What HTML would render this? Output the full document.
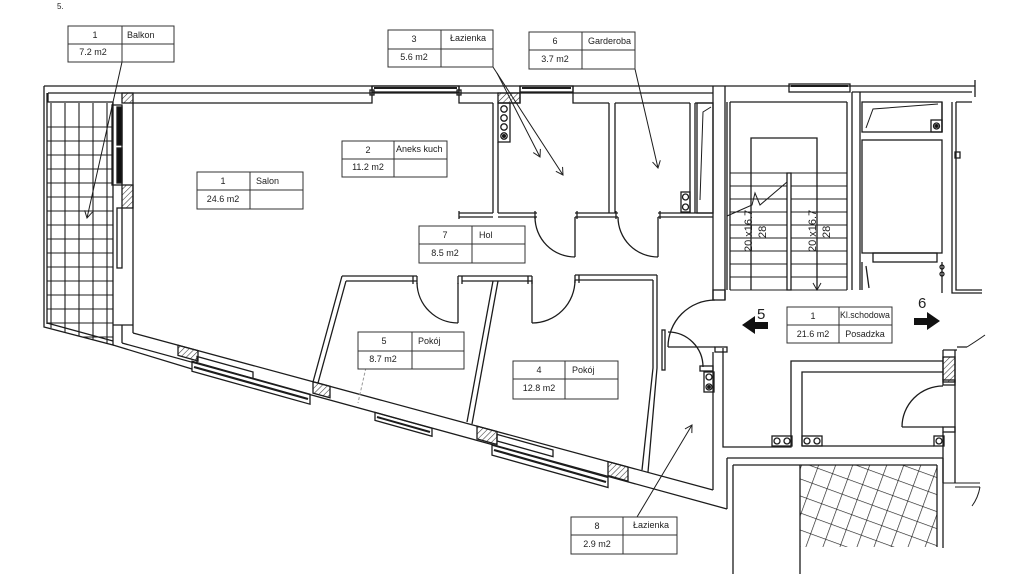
<!DOCTYPE html>
<html><head><meta charset="utf-8"><style>
html,body{margin:0;padding:0;background:#fff;}
svg{display:block;}
text{font-family:"Liberation Sans",Arial,sans-serif;fill:#222;}
</style></head><body>
<svg width="1024" height="574" viewBox="0 0 1024 574" xmlns="http://www.w3.org/2000/svg">
<defs>
<pattern id="h" width="4" height="4" patternUnits="userSpaceOnUse" patternTransform="rotate(45)"><line x1="0" y1="0" x2="0" y2="4" stroke="#333" stroke-width="1.1"/></pattern>
<pattern id="g" width="16" height="16" patternUnits="userSpaceOnUse" patternTransform="rotate(20)"><path d="M0 0H16M0 0V16" stroke="#1c1c1c" stroke-width="1.3" fill="none"/></pattern>
<marker id="a" markerUnits="userSpaceOnUse" markerWidth="10" markerHeight="10" refX="8" refY="5" orient="auto"><path d="M1 1 L8 5 L1 9" fill="none" stroke="#222" stroke-width="1"/></marker>
<clipPath id="bc"><polygon points="47,103 113,103 113,345 47,327"/></clipPath>
</defs>

<text x="57" y="9" font-size="8">5.</text>

<!-- balcony grid -->
<g clip-path="url(#bc)" stroke="#1c1c1c" stroke-width="1.1">
<path d="M51 103V350M65 103V350M79 103V350M93 103V350M107 103V350"/>
<path d="M44 127H113M44 141H113M44 155H113M44 169H113M44 183H113M44 197H113M44 211H113M44 225H113M44 239H113M44 253H113M44 267H113M44 281H113M44 295H113M44 309H113M44 323H113M44 337H113"/>
</g>

<!-- bottom right hatched balcony -->
<rect x="800" y="465" width="137" height="82" fill="url(#g)"/>

<g fill="none" stroke="#1c1c1c" stroke-width="1.3">
<!-- top wall -->
<path d="M44 86H975M975 80V97M48 93H713M48 93V102H113"/>
<path d="M133 103H372V86M459 86V103H493"/>
<path d="M498 103H520V86M573 86V103H609M615 103H690M695 103H713"/>
<path d="M852 92H972M956 102H972"/>
<!-- windows top -->
<rect x="372" y="86" width="87" height="6"/><path d="M374 88H457" stroke-width="2"/>
<rect x="520" y="86" width="53" height="6"/><path d="M522 88H571" stroke-width="2"/>
<rect x="789" y="84" width="61" height="8"/><path d="M791 86H848" stroke-width="2"/>
<rect x="370" y="90" width="4" height="5"/><rect x="457" y="90" width="4" height="5"/>

<!-- balcony -->
<path d="M44 86V327L113 345V102"/>
<path d="M47 93V324"/>
<path d="M47 323L113 341"/>
<!-- salon left wall -->
<path d="M133 103V333"/>
<rect x="112" y="105" width="10" height="80"/>
<rect x="117" y="107" width="5" height="38" fill="#111"/>
<rect x="117" y="148" width="5" height="35" fill="#111"/>
<rect x="122" y="93" width="11" height="10" fill="url(#h)"/>
<rect x="122" y="185" width="11" height="23" fill="url(#h)"/>
<rect x="117" y="208" width="5" height="60"/>
<path d="M113 325H133M122 325V343"/>
<path d="M113 345L192 369"/>

<!-- diagonal outer wall -->
<path d="M122 343L727 509"/>
<path d="M133 333L713 490"/>
<path d="M727 509V458M723 348V447H791V361H943M713 352V490"/>
<!-- hatches on diagonal -->
<polygon points="178,345.2 198,350.6 198,361 178,355.4" fill="url(#h)"/>
<polygon points="313,381.7 330,386.3 330,397.8 313,393.1" fill="url(#h)"/>
<polygon points="477,426.1 497,431.5 497,444.5 477,438.9" fill="url(#h)"/>
<polygon points="608,461.6 628,467 628,481.1 608,475.5" fill="url(#h)"/>
<!-- windows on diagonal -->
<polygon points="192,361.3 310,394.2 310,404.2 192,371.3"/>
<path d="M194 367L308 399" stroke-width="2.2"/>
<polygon points="197,363 253,378.5 253,372 197,356.5"/>
<polygon points="375,412.4 432,428.3 432,436.3 375,420.4"/>
<path d="M377 417L430 432" stroke-width="2"/>
<polygon points="492,445.1 608,477.5 608,487.5 492,455.1"/>
<path d="M494 450L606 482" stroke-width="2.2"/>
<polygon points="497,441 553,456.6 553,450 497,434.4"/>

<!-- kitchen / bath walls -->
<path d="M493 103V213M498 142V213M609 103V213M615 103V213M690 103V213M695 103V213"/>
<rect x="498" y="93" width="22" height="10" fill="url(#h)"/>
<rect x="498" y="103" width="12" height="39"/>
<circle cx="504" cy="109" r="3.2"/><circle cx="504" cy="118" r="3.2"/><circle cx="504" cy="127" r="3.2"/><circle cx="504" cy="136" r="3.2"/>
<circle cx="504" cy="136" r="1.4" fill="#111"/>
<!-- shaft -->
<rect x="697" y="103" width="16" height="110"/>
<path d="M700 200L703 112L711 107" stroke-width="1"/>
<!-- garderoba vents -->
<rect x="681" y="192" width="9" height="20"/><circle cx="685.5" cy="197" r="3"/><circle cx="685.5" cy="207" r="3"/>
<!-- hol top wall -->
<path d="M459 213H493M459 217H493M459 211V219"/>
<path d="M498 213H537M498 217H537M535 211V219"/>
<path d="M575 213H618M575 217H618M577 211V219M616 211V219"/>
<path d="M658 213H713M658 217H713M660 211V219"/>
<!-- doors bath/garderoba -->
<path d="M575 217V257M535 217A40 40 0 0 0 575 257"/>
<path d="M658 217V257M618 217A40 40 0 0 0 658 257"/>

<!-- stair hall -->
<path d="M713 86V300M725 86V300"/>
<rect x="713" y="290" width="12" height="10"/>
<path d="M727 102V290M730 102V290M730 102H847M847 102V290M852 92V290M860 92V290"/>
<path d="M751 290V138H817V290"/>
<path d="M730 173H847M730 186H847M730 199H847M730 212H847M730 225H847M730 238H847M730 251H847M730 264H847M730 277H847M730 290H847" stroke-width="1"/>
<rect x="787" y="173" width="4" height="117" fill="#fff"/>
<path d="M727 216L752 205L755 193L760 205L787 182" stroke-width="1"/>
<path d="M817 275L817 290" marker-end="url(#a)" stroke-width="1"/>

<!-- elevator room -->
<rect x="862" y="102" width="80" height="30"/>
<path d="M866 128L873 109L938 104" stroke-width="1"/>
<rect x="931" y="120" width="11" height="12"/><circle cx="936.5" cy="126" r="3"/><circle cx="936.5" cy="126" r="1.4" fill="#111"/>
<rect x="862" y="140" width="80" height="113"/>
<rect x="873" y="253" width="64" height="9"/>
<path d="M862 262V290M866 266L869 288M942 262V293"/>
<path d="M952 102V293H982M956 102V290H982M942 102V132"/>
<rect x="955" y="152" width="5" height="6"/>
<circle cx="942" cy="267" r="2"/><circle cx="942" cy="274" r="2"/>

<!-- rooms 5 and 4 -->
<path d="M342 276L313 382M346 281L318 383"/>
<path d="M342 276H417M346 281H417M413 276V284M417 276V284"/>
<path d="M458 276H532M462 281H532M458 276V284M462 276V284M528 276V284M532 276V284"/>
<path d="M575 275H657M575 280H653M575 275V283M579 275V283"/>
<path d="M493 281L467 422M498 281L472 424"/>
<path d="M458 283V323M417 283A41 41 0 0 0 458 323"/>
<path d="M532 280V323M532 323A43 43 0 0 0 575 280"/>
<path d="M653 280V368L642 470M657 275V368L648 472"/>
<!-- bath 8 doors -->
<rect x="662" y="330" width="3" height="40"/>
<path d="M668 332A35 35 0 0 1 703 367"/>
<rect x="700" y="366" width="13" height="5"/>
<path d="M668 347H715"/>
<path d="M668 347A47 47 0 0 1 715 300"/>
<rect x="715" y="347" width="12" height="5"/>
<rect x="704" y="372" width="10" height="20"/><circle cx="709" cy="377" r="3"/><circle cx="709" cy="387" r="3"/><circle cx="709" cy="387" r="1.3" fill="#111"/>

<!-- bottom right room -->
<path d="M802 446V372H943"/>
<path d="M802 446H934"/>
<rect x="772" y="436" width="20" height="10"/><circle cx="777" cy="441" r="3"/><circle cx="787" cy="441" r="3"/>
<rect x="802" y="436" width="20" height="10"/><circle cx="807" cy="441" r="3"/><circle cx="817" cy="441" r="3"/>
<rect x="934" y="436" width="10" height="10"/><circle cx="939" cy="441" r="3"/>
<path d="M943 350V380M943 432V483M955 350V483M943 350H957M957 347H967"/>
<path d="M967 347Q978 340 985 335" stroke-width="1"/>
<rect x="943" y="357" width="12" height="25" fill="url(#h)"/>
<rect x="943" y="380" width="12" height="5"/><rect x="943" y="427" width="12" height="5"/>
<path d="M902 427H943M902 427A41 41 0 0 1 943 386"/>
<path d="M727 458H943M733 465H937M733 465V574M937 465V547M943 458V548M800 465V574"/>
<path d="M943 483H980M955 487H980M980 487Q978 498 972 506" stroke-width="1"/>

<!-- leaders -->
<g stroke-width="1">
<path d="M122 62L87 218" marker-end="url(#a)"/>
<path d="M493 67L563 175" marker-end="url(#a)"/>
<path d="M497 73L540 157" marker-end="url(#a)"/>
<path d="M635 69L658 168" marker-end="url(#a)"/>
<path d="M637 517L692 425" marker-end="url(#a)"/>
<path d="M367 363L358 403" stroke="#999" stroke-dasharray="3 2"/>
</g>
</g>

<!-- arrows 5 / 6 -->
<polygon points="742,325 755,316 755,322 768,322 768,329 755,329 755,334" fill="#111"/>
<text x="757" y="319" font-size="15">5</text>
<polygon points="940,321 927,312 927,318 914,318 914,325 927,325 927,330" fill="#111"/>
<text x="918" y="308" font-size="15">6</text>

<!-- stair text -->
<g font-size="11">
<text transform="translate(752,252) rotate(-90)">20 x16.7</text>
<text transform="translate(766,238) rotate(-90)">28</text>
<text transform="translate(816,252) rotate(-90)">20 x16.7</text>
<text transform="translate(830,238) rotate(-90)">28</text>
</g>

<!-- labels -->
<g font-size="9" stroke-width="1">
<g><rect x="68" y="26" width="106" height="36" fill="#fff" stroke="#333"/><path d="M68 44H174M122 26V62" stroke="#333"/>
<text x="95" y="38" text-anchor="middle">1</text><text x="127" y="38">Balkon</text><text x="93" y="55" text-anchor="middle">7.2 m2</text></g>

<g><rect x="197" y="172" width="106" height="37" fill="#fff" stroke="#333"/><path d="M197 190H303M250 172V209" stroke="#333"/>
<text x="223" y="184" text-anchor="middle">1</text><text x="256" y="184">Salon</text><text x="223" y="202" text-anchor="middle">24.6 m2</text></g>

<g><rect x="342" y="141" width="105" height="36" fill="#fff" stroke="#333"/><path d="M342 159H447M394 141V177" stroke="#333"/>
<text x="368" y="153" text-anchor="middle">2</text><text x="396" y="152">Aneks kuch</text><text x="368" y="170" text-anchor="middle">11.2 m2</text></g>

<g><rect x="388" y="30" width="105" height="37" fill="#fff" stroke="#333"/><path d="M388 49H493M441 30V67" stroke="#333"/>
<text x="414" y="42" text-anchor="middle">3</text><text x="450" y="41">Łazienka</text><text x="414" y="60" text-anchor="middle">5.6 m2</text></g>

<g><rect x="529" y="32" width="106" height="37" fill="#fff" stroke="#333"/><path d="M529 50H635M582 32V69" stroke="#333"/>
<text x="555" y="44" text-anchor="middle">6</text><text x="588" y="44">Garderoba</text><text x="555" y="62" text-anchor="middle">3.7 m2</text></g>

<g><rect x="419" y="226" width="106" height="37" fill="#fff" stroke="#333"/><path d="M419 244H525M472 226V263" stroke="#333"/>
<text x="445" y="238" text-anchor="middle">7</text><text x="479" y="238">Hol</text><text x="445" y="256" text-anchor="middle">8.5 m2</text></g>

<g><rect x="358" y="332" width="106" height="37" fill="#fff" stroke="#333"/><path d="M358 351H464M412 332V369" stroke="#333"/>
<text x="384" y="344" text-anchor="middle">5</text><text x="418" y="344">Pokój</text><text x="383" y="362" text-anchor="middle">8.7 m2</text></g>

<g><rect x="513" y="361" width="105" height="38" fill="#fff" stroke="#333"/><path d="M513 379H618M565 361V399" stroke="#333"/>
<text x="539" y="373" text-anchor="middle">4</text><text x="572" y="373">Pokój</text><text x="539" y="391" text-anchor="middle">12.8 m2</text></g>

<g><rect x="571" y="517" width="106" height="37" fill="#fff" stroke="#333"/><path d="M571 535H677M623 517V554" stroke="#333"/>
<text x="597" y="529" text-anchor="middle">8</text><text x="633" y="528">Łazienka</text><text x="597" y="547" text-anchor="middle">2.9 m2</text></g>

<g><rect x="787" y="307" width="105" height="36" fill="#fff" stroke="#333"/><path d="M787 325H892M839 307V343" stroke="#333"/>
<text x="813" y="319" text-anchor="middle">1</text><text x="840" y="318" font-size="8.8">Kl.schodowa</text><text x="813" y="337" text-anchor="middle">21.6 m2</text><text x="865" y="337" text-anchor="middle">Posadzka</text></g>
</g>
</svg>
</body></html>
